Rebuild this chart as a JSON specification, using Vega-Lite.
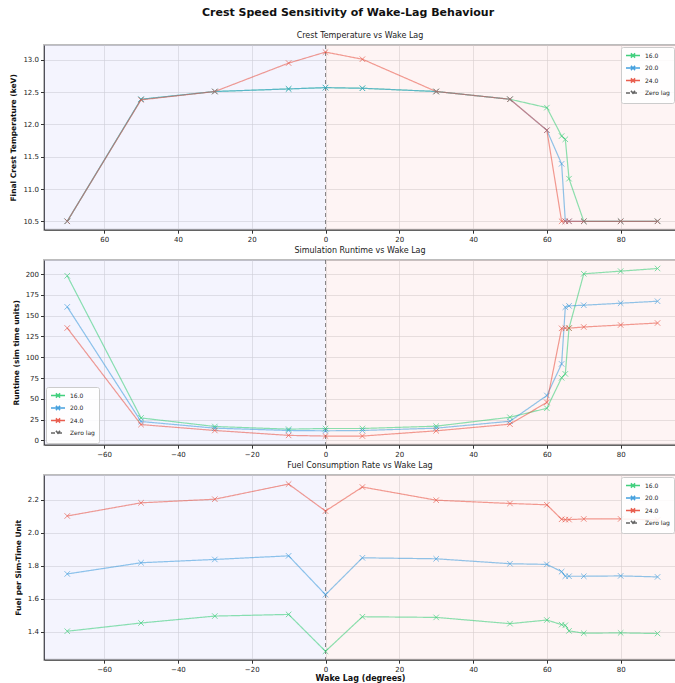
{
  "$schema": "https://vega.github.io/schema/vega-lite/v6.json",
  "autosize": {"type": "pad"},
  "padding": {"left": 8, "top": 6, "right": 1, "bottom": 0},
  "bounds": "flush",
  "spacing": 30,
  "title": {"text": "Crest Speed Sensitivity of Wake-Lag Behaviour", "fontSize": 11, "fontWeight": "bold", "color": "#111", "anchor": "middle", "frame": "group", "dx": -12, "offset": 13},
  "datasets": {
    "regions": [
      {"side": "lead", "start": -100, "end": 0},
      {"side": "lag", "start": 0, "end": 100}
    ],
    "zero": [{"speed": "Zero lag", "lag": 0}],
    "runs": [
      {"speed": "16.0", "lag": -70, "temp": 10.5, "runtime": 198, "fuel": 1.402},
      {"speed": "16.0", "lag": -50, "temp": 12.39, "runtime": 27, "fuel": 1.452},
      {"speed": "16.0", "lag": -30, "temp": 12.51, "runtime": 16.7, "fuel": 1.494},
      {"speed": "16.0", "lag": -10, "temp": 12.55, "runtime": 13.5, "fuel": 1.504},
      {"speed": "16.0", "lag": 0, "temp": 12.57, "runtime": 14.3, "fuel": 1.28},
      {"speed": "16.0", "lag": 10, "temp": 12.56, "runtime": 14.3, "fuel": 1.49},
      {"speed": "16.0", "lag": 30, "temp": 12.51, "runtime": 17.1, "fuel": 1.486},
      {"speed": "16.0", "lag": 50, "temp": 12.39, "runtime": 27.8, "fuel": 1.448},
      {"speed": "16.0", "lag": 60, "temp": 12.26, "runtime": 38.6, "fuel": 1.47},
      {"speed": "16.0", "lag": 64, "temp": 11.82, "runtime": 75.3, "fuel": 1.442},
      {"speed": "16.0", "lag": 65, "temp": 11.77, "runtime": 80, "fuel": 1.438},
      {"speed": "16.0", "lag": 66, "temp": 11.16, "runtime": 135, "fuel": 1.404},
      {"speed": "16.0", "lag": 70, "temp": 10.5, "runtime": 200.4, "fuel": 1.39},
      {"speed": "16.0", "lag": 80, "temp": 10.5, "runtime": 203.6, "fuel": 1.392},
      {"speed": "16.0", "lag": 90, "temp": 10.5, "runtime": 206.8, "fuel": 1.388},
      {"speed": "20.0", "lag": -70, "temp": 10.5, "runtime": 160.6, "fuel": 1.75},
      {"speed": "20.0", "lag": -50, "temp": 12.39, "runtime": 22.7, "fuel": 1.818},
      {"speed": "20.0", "lag": -30, "temp": 12.51, "runtime": 14.7, "fuel": 1.838},
      {"speed": "20.0", "lag": -10, "temp": 12.55, "runtime": 11.9, "fuel": 1.86},
      {"speed": "20.0", "lag": 0, "temp": 12.57, "runtime": 11.5, "fuel": 1.624},
      {"speed": "20.0", "lag": 10, "temp": 12.56, "runtime": 11.9, "fuel": 1.848},
      {"speed": "20.0", "lag": 30, "temp": 12.51, "runtime": 14.7, "fuel": 1.842},
      {"speed": "20.0", "lag": 50, "temp": 12.39, "runtime": 23, "fuel": 1.812},
      {"speed": "20.0", "lag": 60, "temp": 11.91, "runtime": 54, "fuel": 1.808},
      {"speed": "20.0", "lag": 64, "temp": 11.39, "runtime": 92, "fuel": 1.764},
      {"speed": "20.0", "lag": 65, "temp": 10.5, "runtime": 160.2, "fuel": 1.736},
      {"speed": "20.0", "lag": 66, "temp": 10.5, "runtime": 161.8, "fuel": 1.736},
      {"speed": "20.0", "lag": 70, "temp": 10.5, "runtime": 162.6, "fuel": 1.736},
      {"speed": "20.0", "lag": 80, "temp": 10.5, "runtime": 165, "fuel": 1.738},
      {"speed": "20.0", "lag": 90, "temp": 10.5, "runtime": 167.4, "fuel": 1.732},
      {"speed": "24.0", "lag": -70, "temp": 10.5, "runtime": 135.2, "fuel": 2.102},
      {"speed": "24.0", "lag": -50, "temp": 12.38, "runtime": 19, "fuel": 2.182},
      {"speed": "24.0", "lag": -30, "temp": 12.51, "runtime": 11.9, "fuel": 2.204},
      {"speed": "24.0", "lag": -10, "temp": 12.95, "runtime": 6, "fuel": 2.296},
      {"speed": "24.0", "lag": 0, "temp": 13.12, "runtime": 5.2, "fuel": 2.132},
      {"speed": "24.0", "lag": 10, "temp": 13.01, "runtime": 5.2, "fuel": 2.278},
      {"speed": "24.0", "lag": 30, "temp": 12.51, "runtime": 11.5, "fuel": 2.198},
      {"speed": "24.0", "lag": 50, "temp": 12.39, "runtime": 19.5, "fuel": 2.178},
      {"speed": "24.0", "lag": 60, "temp": 11.91, "runtime": 45.7, "fuel": 2.17},
      {"speed": "24.0", "lag": 64, "temp": 10.5, "runtime": 134.8, "fuel": 2.082},
      {"speed": "24.0", "lag": 65, "temp": 10.5, "runtime": 135, "fuel": 2.08},
      {"speed": "24.0", "lag": 66, "temp": 10.5, "runtime": 135, "fuel": 2.08},
      {"speed": "24.0", "lag": 70, "temp": 10.5, "runtime": 136.4, "fuel": 2.084},
      {"speed": "24.0", "lag": 80, "temp": 10.5, "runtime": 138.8, "fuel": 2.084},
      {"speed": "24.0", "lag": 90, "temp": 10.5, "runtime": 141.2, "fuel": 2.078}
    ]
  },
  "vconcat": [
    {
      "width": 632, "height": 184.7,
      "title": {"text": "Crest Temperature vs Wake Lag"},
      "layer": [
        {"data": {"name": "regions"}, "transform": [{"filter": "datum.side === 'lead'"}],
         "mark": {"type": "rect", "fill": "#c8c8fa", "opacity": 0.2, "clip": true},
         "encoding": {"x": {"field": "start", "type": "quantitative", "scale": {"domain": [-76.3, 95], "nice": false, "zero": false}, "axis": {"values": [-60, -40, -20, 0, 20, 40, 60, 80], "tickCount": 20, "grid": true, "labelExpr": "format(abs(datum.value), 'd')", "title": null}}, "x2": {"field": "end"}}},
        {"data": {"name": "regions"}, "transform": [{"filter": "datum.side === 'lag'"}],
         "mark": {"type": "rect", "fill": "#fac8c8", "opacity": 0.2, "clip": true},
         "encoding": {"x": {"field": "start", "type": "quantitative"}, "x2": {"field": "end"}}},
        {"data": {"name": "zero"}, "mark": {"type": "rule", "strokeWidth": 1, "opacity": 0.7},
         "encoding": {"x": {"field": "lag", "type": "quantitative"},
           "color": {"field": "speed", "type": "nominal", "scale": {"domain": ["16.0", "20.0", "24.0", "Zero lag"], "range": ["#2ecc71", "#3498db", "#e74c3c", "#555555"]}, "legend": {"orient": "top-right", "symbolType": "M-1,0L3,0M0.4,-0.6L1.6,0.6M1.6,-0.6L0.4,0.6"}},
           "strokeDash": {"field": "speed", "type": "nominal", "scale": {"domain": ["16.0", "20.0", "24.0", "Zero lag"], "range": [[1, 0], [1, 0], [1, 0], [4, 3]]}, "legend": {"orient": "top-right", "symbolType": "M-1,0L3,0M0.4,-0.6L1.6,0.6M1.6,-0.6L0.4,0.6"}}}},
        {"data": {"name": "runs"}, "mark": {"type": "line", "strokeWidth": 1.2, "opacity": 0.55},
         "encoding": {
           "x": {"field": "lag", "type": "quantitative"},
           "y": {"field": "temp", "type": "quantitative", "scale": {"domain": [10.37, 13.23], "nice": false, "zero": false}, "axis": {"values": [10.5, 11, 11.5, 12, 12.5, 13], "tickCount": 20, "grid": true, "format": ".1f", "title": "Final Crest Temperature (keV)"}},
           "color": {"field": "speed", "type": "nominal"},
           "strokeDash": {"field": "speed", "type": "nominal"}}},
        {"data": {"name": "runs"}, "mark": {"type": "point", "shape": "M-1,-1L1,1M1,-1L-1,1", "filled": false, "size": 30, "strokeWidth": 1, "opacity": 0.6},
         "encoding": {"x": {"field": "lag", "type": "quantitative"}, "y": {"field": "temp", "type": "quantitative"}, "color": {"field": "speed", "type": "nominal"}}}
      ]
    },
    {
      "width": 632, "height": 184.7,
      "title": {"text": "Simulation Runtime vs Wake Lag"},
      "layer": [
        {"data": {"name": "regions"}, "transform": [{"filter": "datum.side === 'lead'"}],
         "mark": {"type": "rect", "fill": "#c8c8fa", "opacity": 0.2, "clip": true},
         "encoding": {"x": {"field": "start", "type": "quantitative", "scale": {"domain": [-76.3, 95], "nice": false, "zero": false}, "axis": {"values": [-60, -40, -20, 0, 20, 40, 60, 80], "tickCount": 20, "grid": true, "format": "d", "title": null}}, "x2": {"field": "end"}}},
        {"data": {"name": "regions"}, "transform": [{"filter": "datum.side === 'lag'"}],
         "mark": {"type": "rect", "fill": "#fac8c8", "opacity": 0.2, "clip": true},
         "encoding": {"x": {"field": "start", "type": "quantitative"}, "x2": {"field": "end"}}},
        {"data": {"name": "zero"}, "mark": {"type": "rule", "strokeWidth": 1, "opacity": 0.7},
         "encoding": {"x": {"field": "lag", "type": "quantitative"},
           "color": {"field": "speed", "type": "nominal", "scale": {"domain": ["16.0", "20.0", "24.0", "Zero lag"], "range": ["#2ecc71", "#3498db", "#e74c3c", "#555555"]}, "legend": {"orient": "bottom-left", "symbolType": "M-1,0L3,0M0.4,-0.6L1.6,0.6M1.6,-0.6L0.4,0.6"}},
           "strokeDash": {"field": "speed", "type": "nominal", "scale": {"domain": ["16.0", "20.0", "24.0", "Zero lag"], "range": [[1, 0], [1, 0], [1, 0], [4, 3]]}, "legend": {"orient": "bottom-left", "symbolType": "M-1,0L3,0M0.4,-0.6L1.6,0.6M1.6,-0.6L0.4,0.6"}}}},
        {"data": {"name": "runs"}, "mark": {"type": "line", "strokeWidth": 1.2, "opacity": 0.55},
         "encoding": {
           "x": {"field": "lag", "type": "quantitative"},
           "y": {"field": "runtime", "type": "quantitative", "scale": {"domain": [-5.2, 217], "nice": false, "zero": false}, "axis": {"values": [0, 25, 50, 75, 100, 125, 150, 175, 200], "tickCount": 20, "grid": true, "format": "d", "title": "Runtime (sim time units)"}},
           "color": {"field": "speed", "type": "nominal"},
           "strokeDash": {"field": "speed", "type": "nominal"}}},
        {"data": {"name": "runs"}, "mark": {"type": "point", "shape": "M-1,-1L1,1M1,-1L-1,1", "filled": false, "size": 30, "strokeWidth": 1, "opacity": 0.6},
         "encoding": {"x": {"field": "lag", "type": "quantitative"}, "y": {"field": "runtime", "type": "quantitative"}, "color": {"field": "speed", "type": "nominal"}}}
      ]
    },
    {
      "width": 632, "height": 184.7,
      "title": {"text": "Fuel Consumption Rate vs Wake Lag"},
      "layer": [
        {"data": {"name": "regions"}, "transform": [{"filter": "datum.side === 'lead'"}],
         "mark": {"type": "rect", "fill": "#c8c8fa", "opacity": 0.2, "clip": true},
         "encoding": {"x": {"field": "start", "type": "quantitative", "scale": {"domain": [-76.3, 95], "nice": false, "zero": false}, "axis": {"values": [-60, -40, -20, 0, 20, 40, 60, 80], "tickCount": 20, "grid": true, "format": "d", "title": "Wake Lag (degrees)", "titleFontSize": 8, "titlePadding": 2}}, "x2": {"field": "end"}}},
        {"data": {"name": "regions"}, "transform": [{"filter": "datum.side === 'lag'"}],
         "mark": {"type": "rect", "fill": "#fac8c8", "opacity": 0.2, "clip": true},
         "encoding": {"x": {"field": "start", "type": "quantitative"}, "x2": {"field": "end"}}},
        {"data": {"name": "zero"}, "mark": {"type": "rule", "strokeWidth": 1, "opacity": 0.7},
         "encoding": {"x": {"field": "lag", "type": "quantitative"},
           "color": {"field": "speed", "type": "nominal", "scale": {"domain": ["16.0", "20.0", "24.0", "Zero lag"], "range": ["#2ecc71", "#3498db", "#e74c3c", "#555555"]}, "legend": {"orient": "top-right", "symbolType": "M-1,0L3,0M0.4,-0.6L1.6,0.6M1.6,-0.6L0.4,0.6"}},
           "strokeDash": {"field": "speed", "type": "nominal", "scale": {"domain": ["16.0", "20.0", "24.0", "Zero lag"], "range": [[1, 0], [1, 0], [1, 0], [4, 3]]}, "legend": {"orient": "top-right", "symbolType": "M-1,0L3,0M0.4,-0.6L1.6,0.6M1.6,-0.6L0.4,0.6"}}}},
        {"data": {"name": "runs"}, "mark": {"type": "line", "strokeWidth": 1.2, "opacity": 0.55},
         "encoding": {
           "x": {"field": "lag", "type": "quantitative"},
           "y": {"field": "fuel", "type": "quantitative", "scale": {"domain": [1.229, 2.351], "nice": false, "zero": false}, "axis": {"values": [1.4, 1.6, 1.8, 2.0, 2.2], "tickCount": 20, "grid": true, "format": ".1f", "title": "Fuel per Sim-Time Unit"}},
           "color": {"field": "speed", "type": "nominal"},
           "strokeDash": {"field": "speed", "type": "nominal"}}},
        {"data": {"name": "runs"}, "mark": {"type": "point", "shape": "M-1,-1L1,1M1,-1L-1,1", "filled": false, "size": 30, "strokeWidth": 1, "opacity": 0.6},
         "encoding": {"x": {"field": "lag", "type": "quantitative"}, "y": {"field": "fuel", "type": "quantitative"}, "color": {"field": "speed", "type": "nominal"}}}
      ]
    }
  ],
  "resolve": {"scale": {"color": "independent", "strokeDash": "independent", "x": "independent", "y": "independent"}, "legend": {"color": "independent", "strokeDash": "independent"}},
  "config": {
    "font": "DejaVu Sans",
    "view": {"stroke": "#bdbdbd", "strokeWidth": 2},
    "axis": {"labelFontSize": 7, "labelColor": "#222", "labelOverlap": false, "titleFontSize": 7.5, "titleFontWeight": "bold", "titleColor": "#111", "domainColor": "#333", "tickColor": "#333", "tickSize": 3.5, "grid": true, "gridColor": "#cccccc", "gridOpacity": 0.7, "gridWidth": 0.8, "labelPadding": 2, "titlePadding": 5, "zindex": 1},
    "title": {"fontSize": 8, "fontWeight": "normal", "color": "#222", "offset": 5},
    "legend": {
      "title": null, "labelFontSize": 6, "labelColor": "#222", "symbolSize": 49, "symbolStrokeWidth": 1.5, "symbolFillColor": "transparent", "symbolOpacity": 0.9,
      "rowPadding": 1.5, "padding": 4, "strokeColor": "#cccccc", "fillColor": "rgba(255,255,255,0.85)", "cornerRadius": 2, "offset": 2, "labelOffset": 11
    }
  }
}
